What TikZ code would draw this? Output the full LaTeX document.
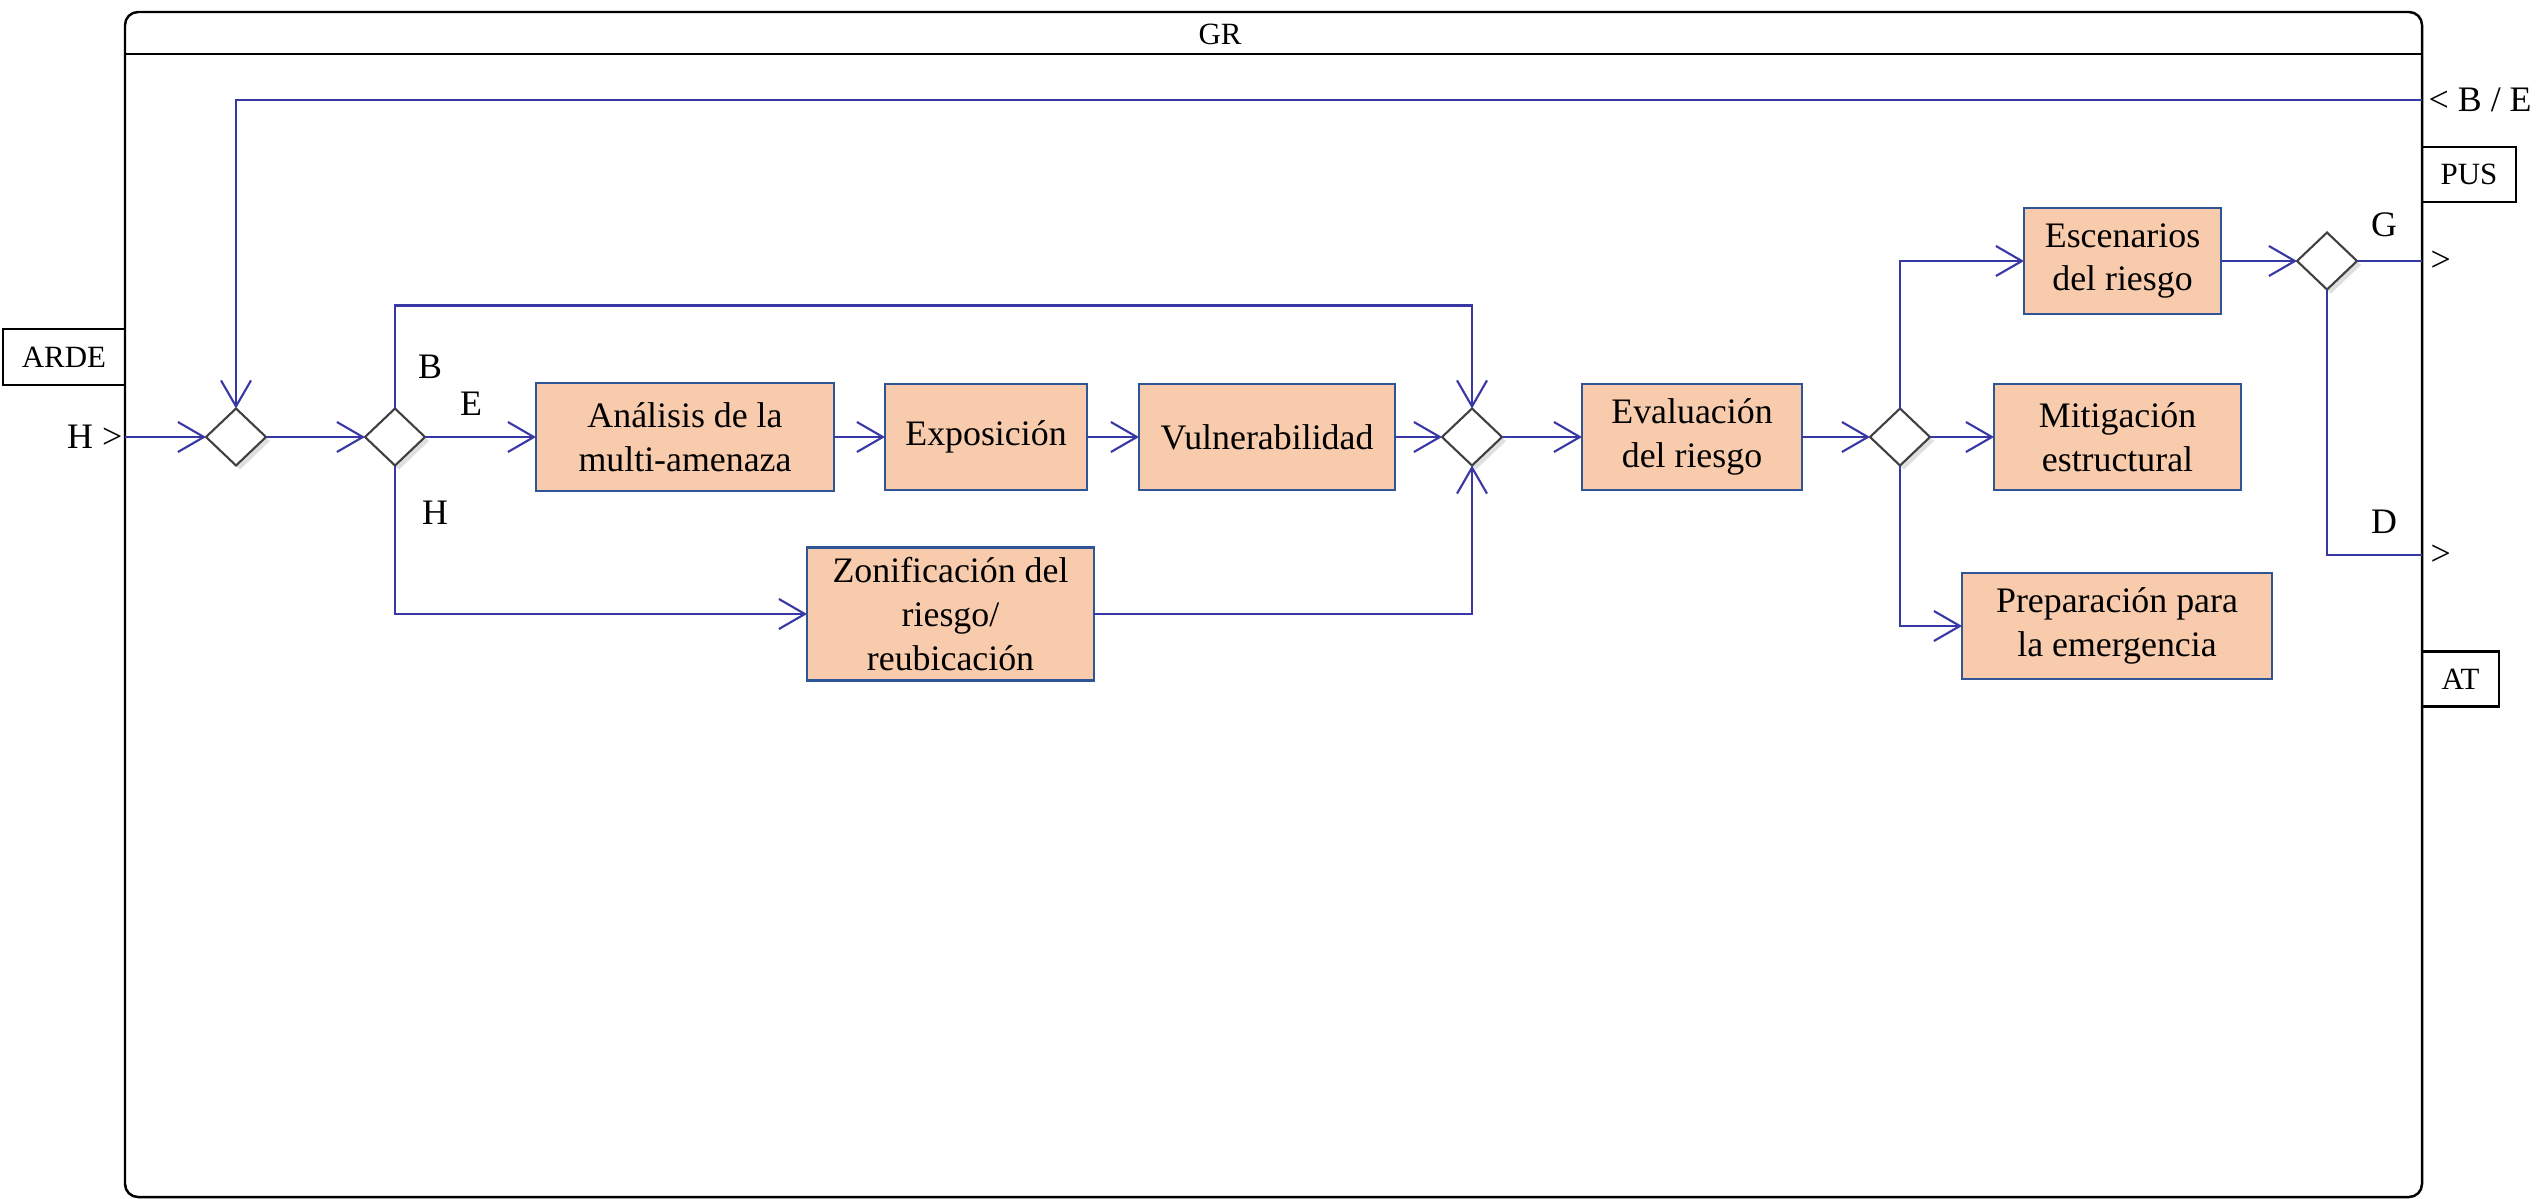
\documentclass[tikz,border=0pt]{standalone}
\usepackage{fontspec}
\setmainfont{Liberation Serif}
\usetikzlibrary{shapes.geometric, arrows.meta, positioning, shadows}
\definecolor{flowblue}{RGB}{55,55,165}
\definecolor{boxline}{RGB}{47,85,151}
\definecolor{boxfill}{RGB}{248,203,173}
\tikzstyle{process} = [rectangle, minimum height=1.06cm, align=center, draw=boxline, line width=0.8pt, fill=boxfill, font=\fontsize{10.2}{12.4}\selectfont, inner sep=2pt, outer sep=0pt]
\tikzstyle{decision} = [diamond, minimum width=0.6cm, minimum height=0.57cm, inner sep=0pt, outer sep=0pt, draw=black!75, line width=0.6pt, fill=white, drop shadow={opacity=0.25, shadow xshift=0.04cm, shadow yshift=-0.04cm}]
\tikzstyle{tag} = [rectangle, draw=black, line width=0.8pt, minimum height=0.55cm, font=\fontsize{8.8}{10}\selectfont, inner sep=0pt, outer sep=0pt]
\tikzstyle{flowtext} = [inner sep=0pt, font=\fontsize{10.2}{12}\selectfont]
\tikzstyle{arrow} = [line width=0.6pt, draw=flowblue, -{Straight Barb[length=0.26cm, width=0.3cm]}]
\tikzstyle{line} = [line width=0.6pt, draw=flowblue]

\begin{document}
\begin{tikzpicture}[node distance=1cm]
	\useasboundingbox (0,0) rectangle (25.44,-11.98);
	% pool
	\draw [line width=0.7pt, rounded corners=0.13cm] (1.25,-0.12) rectangle (24.22,-11.97);
	\draw [line width=0.7pt] (1.25,-0.54) -- (24.22,-0.54);
	\node (gr) [font=\fontsize{8.8}{10}\selectfont] at (12.20,-0.34) {GR};

	\coordinate (inH) at (1.25,-4.37);
	\coordinate (inB) at (24.22,-1.00);

	\node (d1) [decision] at (2.36,-4.37) {};
	\node (d2) [decision, right=0.99cm of d1] {};
	\node (ana) [process, minimum width=2.98cm, minimum height=1.08cm, right=1.11cm of d2] {Análisis de la\\multi-amenaza};
	\node (expo) [process, minimum width=2.02cm, right=0.51cm of ana] {Exposición};
	\node (vuln) [process, minimum width=2.56cm, right=0.52cm of expo] {Vulnerabilidad};
	\node (d5) [decision, right=0.47cm of vuln] {};
	\node (eva) [process, minimum width=2.2cm, right=0.8cm of d5] {Evaluación\\del riesgo};
	\node (d3) [decision, right=0.68cm of eva] {};
	\node (mit) [process, minimum width=2.47cm, right=0.64cm of d3] {Mitigación\\estructural};
	\node (esc) [process, minimum width=1.97cm, right=0.94cm of d3, yshift=1.76cm] {Escenarios\\del riesgo};
	\node (prep) [process, minimum width=3.1cm, right=0.32cm of d3, yshift=-1.89cm] {Preparación para\\la emergencia};
	\node (d4) [decision, right=0.76cm of esc] {};
	\node (zon) [process, minimum width=2.87cm, minimum height=1.33cm, right=3.82cm of d2, yshift=-1.77cm] {Zonificación del\\riesgo/\\reubicación};

	\coordinate (outG) at (d4 -| inB);
	\coordinate (outD) at (24.22,-5.55);

	% inputs, outputs and controls
	\node (arde) [tag, minimum width=1.22cm, minimum height=0.56cm, anchor=east] at (1.25,-3.57) {ARDE};
	\node (pus) [tag, minimum width=0.94cm, anchor=west] at (24.22,-1.745) {PUS};
	\node (atbox) [tag, minimum width=0.77cm, anchor=west] at (24.22,-6.79) {AT};
	\node (lh) [flowtext, anchor=east] at (1.23,-4.37) {H >};
	\node (lbe) [flowtext, right=0.06cm of inB] {< B / E};
	\node (lg) [flowtext, right=0.08cm of outG] {>};
	\node (ld) [flowtext, right=0.08cm of outD] {>};
	\node (tb) [flowtext] at (4.30,-3.67) {B};
	\node (te) [flowtext] at (4.71,-4.04) {E};
	\node (th) [flowtext] at (4.35,-5.13) {H};
	\node (tg) [flowtext] at (23.84,-2.25) {G};
	\node (tdd) [flowtext] at (23.84,-5.22) {D};

	\draw [arrow] (inH) -- (d1);
	\draw [arrow] (d1) -- (d2);
	\draw [arrow] (d2) -- (ana);
	\draw [arrow] (ana) -- (expo);
	\draw [arrow] (expo) -- (vuln);
	\draw [arrow] (vuln) -- (d5);
	\draw [arrow] (d5) -- (eva);
	\draw [arrow] (eva) -- (d3);
	\draw [arrow] (d3) -- (mit);
	\draw [arrow] (d3.north) |- (esc);
	\draw [arrow] (d3.south) |- (prep);
	\draw [arrow] (esc) -- (d4);
	\draw [line] (d4) -- (outG);
	\draw [line] (d4.south) |- (outD);
	\draw [arrow] (inB) -| (d1.north);
	\draw [arrow] (d2.north) -- ++(0,1.03) -| (d5.north);
	\draw [arrow] (d2.south) |- (zon);
	\draw [arrow] (zon) -| (d5.south);
\end{tikzpicture}
\end{document}
